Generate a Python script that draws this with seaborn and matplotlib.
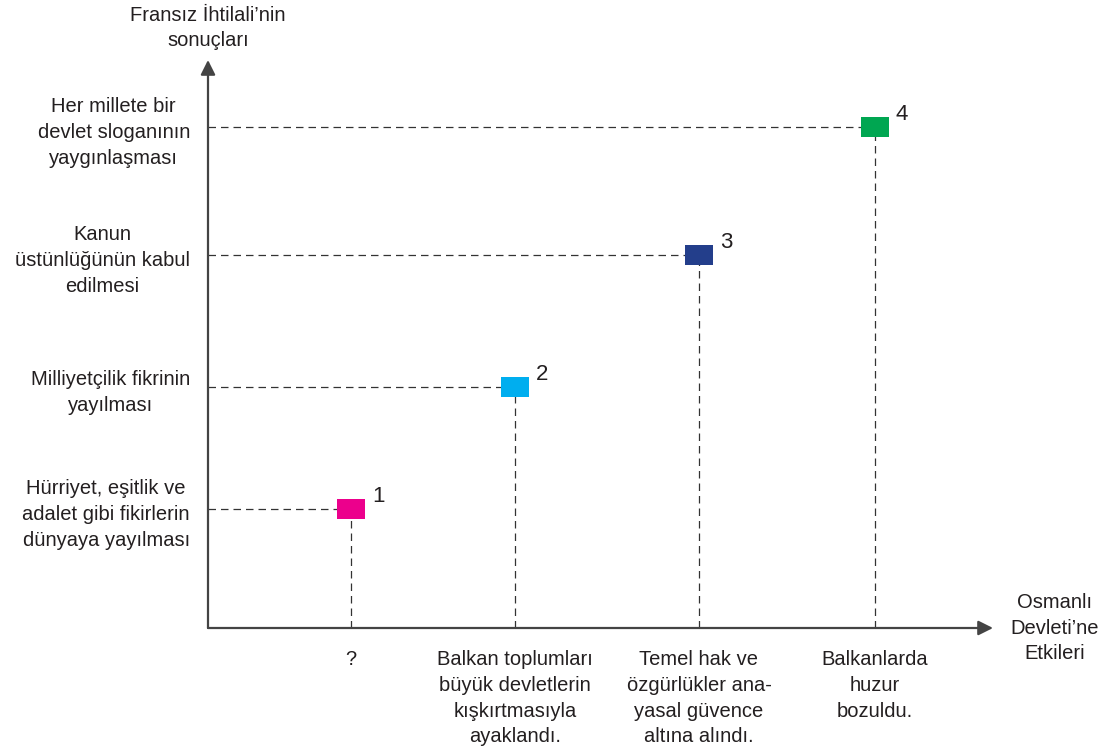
import matplotlib
matplotlib.use("Agg")
from matplotlib import pyplot as plt
import seaborn as sns
import pandas as pd

# ---------------- data ----------------
etkiler = ["?",
           "Balkan toplumları\nbüyük devletlerin\nkışkırtmasıyla\nayaklandı.",
           "Temel hak ve\nözgürlükler ana-\nyasal güvence\naltına alındı.",
           "Balkanlarda\nhuzur\nbozuldu."]
sonuclar = ["Hürriyet, eşitlik ve\nadalet gibi fikirlerin\ndünyaya yayılması",
            "Milliyetçilik fikrinin\nyayılması",
            "Kanun\nüstünlüğünün kabul\nedilmesi",
            "Her millete bir\ndevlet sloganının\nyaygınlaşması"]
numaralar = ["1", "2", "3", "4"]
etki_x = [143, 307, 491, 667]
sonuc_y = [119, 241, 373, 501]
renkler = ["#EC008C", "#00AEEF", "#233E8B", "#00A651"]

x_title = "Osmanlı\nDevleti’ne\nEtkileri"
y_title = "Fransız İhtilali’nin\nsonuçları"

# ---------------- plot ----------------
sns.set_theme(style="white")
plt.rcParams['font.family'] = ['Liberation Sans', 'DejaVu Sans']
text_col = "#231f20"
axis_col = "#444444"
dash_col = "#333333"
fs = 14.5
lsp = 1.45

fig = plt.figure(figsize=(11.04, 7.47), dpi=100)
ax = fig.add_axes([208 / 1104, (747 - 628) / 747, (993 - 208) / 1104, (628 - 60) / 747])
ax.set_xlim(0, 785)
ax.set_ylim(0, 568)
for s in ax.spines.values():
    s.set_visible(False)

# axes with arrows
arr = dict(arrowstyle='-|>', lw=1.6, color=axis_col, mutation_scale=22, shrinkA=0, shrinkB=0)
ax.annotate("", xy=(1, 0), xytext=(0, 0), xycoords='axes fraction', arrowprops=arr)
ax.annotate("", xy=(0, 1), xytext=(0, 0), xycoords='axes fraction', arrowprops=arr)

# guide lines
ax.hlines(sonuc_y, 0, etki_x, colors=dash_col, linestyles=(0, (6, 4)), lw=0.9, zorder=1)
ax.vlines(etki_x, 0, sonuc_y, colors=dash_col, linestyles=(0, (6, 4)), lw=0.9, zorder=1)

df = pd.DataFrame({'x': etki_x, 'y': sonuc_y, 'no': numaralar})
verts = [(-1.4, -1), (1.4, -1), (1.4, 1), (-1.4, 1), (-1.4, -1)]
sns.scatterplot(data=df, x='x', y='y', hue='no', palette=renkler, marker=verts,
                s=406, linewidth=0, legend=False, ax=ax, zorder=3)

for i, row in df.iterrows():
    ax.annotate(row['no'], xy=(row['x'], row['y']), xytext=(15, 5), textcoords='offset points',
                ha='left', va='baseline', fontsize=16, color=text_col)

ax.set_xlabel("")
ax.set_ylabel("")
ax.set_xticks(etki_x, etkiler)
ax.set_yticks(sonuc_y, sonuclar)
ax.tick_params(axis='both', length=0, labelsize=fs, labelcolor=text_col)
ax.tick_params(axis='x', pad=16)
ax.tick_params(axis='y', pad=13)
for t in ax.get_xticklabels() + ax.get_yticklabels():
    t.set_multialignment('center')
    t.set_linespacing(lsp)

ax.annotate(y_title, xy=(0, 1), xycoords='axes fraction', xytext=(0, 23), textcoords='offset points',
            ha='center', va='center', fontsize=fs, color=text_col, linespacing=lsp)
ax.annotate(x_title, xy=(1, 0), xycoords='axes fraction', xytext=(12.5, 0), textcoords='offset points',
            ha='left', va='center', fontsize=fs, color=text_col, linespacing=lsp,
            multialignment='center')

fig.savefig("out.png", dpi=100)
